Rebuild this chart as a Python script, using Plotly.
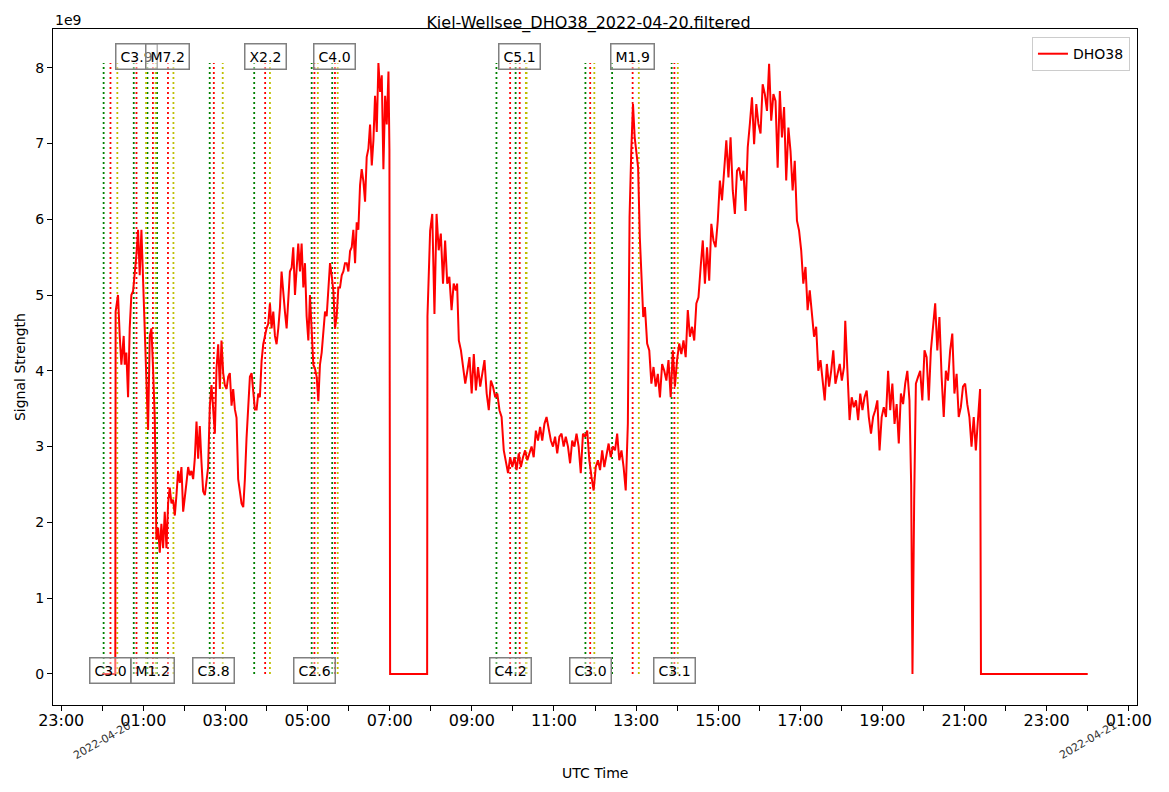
import pandas as pd
import plotly.graph_objects as go

DAY = "2022-04-20"
STATION = "DHO38"

# signal strength (1e9 units), minutes after midnight UTC
minutes = [0, 19, 19.5, 23.0, 25.5, 27.9, 31.3, 32.8, 35.2, 37.7, 40.1, 42.5, 45.0, 47.4, 49.9, 52.3, 54.7,
           57.2, 59.6, 62.1, 64.5, 66.9, 69.4, 71.8, 74.2, 76.7, 79.1, 81.6, 84.0, 86.4, 88.9, 91.3, 93.8,
           96.2, 98.6, 101.1, 103.5, 106.0, 108.4, 110.8, 113.3, 115.7, 118.2, 120.6, 123.0, 125.5, 127.9,
           130.3, 132.8, 135.2, 137.7, 140.1, 142.5, 145.0, 147.4, 149.9, 152.3, 154.7, 157.2, 159.6, 162.1,
           164.5, 166.9, 169.4, 171.8, 174.2, 176.7, 179.1, 181.6, 184.0, 186.4, 188.9, 191.3, 193.8, 196.2,
           198.6, 201.1, 203.5, 206.0, 208.4, 210.8, 213.3, 215.7, 218.2, 220.6, 223.0, 225.5, 227.9, 230.3,
           232.8, 235.2, 237.7, 240.1, 242.5, 245.0, 247.4, 249.9, 252.3, 254.7, 257.2, 259.6, 262.0, 264.5,
           266.9, 269.4, 271.8, 274.2, 276.7, 279.1, 281.6, 284.0, 286.4, 288.9, 291.3, 293.8, 296.2, 298.6,
           301.1, 303.5, 306.0, 308.4, 310.8, 313.3, 315.7, 318.1, 320.6, 323.0, 325.5, 327.9, 330.3, 332.8,
           335.2, 337.7, 340.1, 342.5, 345.0, 347.4, 349.9, 352.3, 354.7, 357.2, 359.6, 362.1, 364.5, 366.9,
           369.4, 371.8, 374.2, 376.7, 379.1, 381.6, 384.0, 386.4, 388.9, 391.3, 393.8, 396.2, 398.6, 401.1,
           403.5, 406.0, 408.4, 410.8, 413.3, 415.7, 418.2, 419.6, 420.6, 474.7, 475.2,
           479.1, 482.2, 485.4, 488.5, 491.6, 494.7, 497.9, 501.0, 504.1, 507.2, 510.4, 513.5, 516.6, 518.5,
           521.0, 524.1, 527.3, 530.4, 533.5, 536.6, 539.8, 542.9, 546.0, 549.1, 552.3, 555.4, 558.5, 561.7,
           564.8, 567.9, 571.0, 574.2, 577.3, 580.4, 583.5, 586.7, 589.8, 592.9, 596.0, 599.2, 602.3, 605.4,
           608.6, 611.7, 614.8, 617.9, 621.1, 624.2, 627.3, 630.4, 633.6, 636.7, 639.8, 642.9, 646.1, 649.2,
           652.3, 655.5, 658.6, 661.7, 664.8, 668.0, 671.1, 674.2, 677.3, 680.5, 683.6, 686.7, 689.9, 693.0,
           696.1, 699.2, 702.4, 705.5, 708.6, 711.7, 714.9, 718.0, 721.1, 724.3, 727.4, 730.5, 733.6, 736.8,
           739.9, 743.0, 746.1, 749.3, 752.4, 755.5, 758.7, 761.8, 764.9, 768.0, 770.5, 773.0, 775.5, 778.0,
           780.5, 783.0, 785.5, 788.0, 790.5, 793.0, 796.2, 799.3, 802.4, 805.5, 808.7, 811.8, 814.9, 818.1,
           821.2, 824.3, 827.4, 830.6, 833.7, 836.8, 839.9, 843.1, 846.2, 849.3, 852.5, 855.6, 858.7, 861.8,
           865.0, 868.1, 871.2, 874.4, 877.5, 880.6, 883.7, 886.9, 890.0, 893.1, 896.2, 899.4, 902.5, 905.6,
           908.8, 911.9, 915.0, 918.1, 921.3, 924.4, 927.5, 930.6, 933.8, 936.9, 940.0, 943.2, 946.3, 949.4,
           952.5, 955.7, 958.8, 961.9, 965.0, 968.2, 971.3, 974.4, 977.5, 980.7, 983.8, 986.9, 990.1, 993.2,
           996.3, 999.4, 1002.6, 1005.7, 1008.8, 1011.9, 1015.1, 1018.2, 1021.3, 1024.4, 1027.6, 1030.7,
           1033.8, 1036.9, 1040.1, 1043.2, 1046.3, 1049.5, 1052.6, 1055.7, 1058.8, 1062.0, 1065.1, 1068.2,
           1071.3, 1074.5, 1077.6, 1080.7, 1083.9, 1085.7, 1088.9, 1092.0, 1095.1, 1098.2, 1101.4, 1104.5,
           1107.6, 1110.8, 1113.9, 1117.0, 1120.1, 1123.3, 1126.4, 1129.5, 1132.6, 1135.8, 1138.9, 1142.0,
           1145.2, 1148.3, 1151.4, 1154.5, 1157.7, 1160.8, 1163.9, 1167.0, 1170.2, 1173.3, 1176.4, 1179.5,
           1182.0, 1183.9, 1186.4, 1188.9, 1192.1, 1195.2, 1198.3, 1201.5, 1204.6, 1207.7, 1210.8, 1214.0,
           1217.1, 1220.2, 1223.3, 1226.5, 1229.6, 1232.7, 1235.8, 1239.0, 1242.1, 1245.2, 1248.4, 1251.5,
           1254.6, 1257.7, 1260.9, 1264.0, 1267.1, 1270.2, 1273.4, 1276.5, 1279.6, 1282.7, 1284.0, 1440]

signal = [0, 0, 4.78, 5.0, 4.46, 4.08, 4.46, 4.08, 4.24, 3.65, 4.56, 5.0, 5.05, 5.26, 5.53, 5.86, 5.26,
          5.86, 5.2, 4.46, 3.65, 3.22, 4.46, 4.56, 4.03, 3.38, 1.77, 1.93, 1.6, 1.98, 1.66, 2.14, 1.66,
          2.25, 2.46, 2.25, 2.3, 2.09, 2.36, 2.68, 2.52, 2.73, 2.14, 2.3, 2.52, 2.73, 2.62,
          2.68, 2.57, 2.84, 3.33, 2.84, 3.27, 2.79, 2.41, 2.36, 2.52, 2.73, 3.54, 3.81, 3.49,
          3.17, 4.03, 4.35, 3.76, 4.4, 3.97, 3.81, 3.76, 3.92, 3.97, 3.54, 3.76, 3.49, 3.38,
          2.57, 2.41, 2.25, 2.2, 2.57, 3.11, 3.54, 3.92, 3.97, 3.76, 3.49, 3.49, 3.70, 3.65,
          4.13, 4.35, 4.46, 4.56, 4.62, 4.89, 4.56, 4.78, 4.46, 4.35, 4.56, 4.83, 5.31, 5.0,
          4.78, 4.56, 5.0, 5.31, 5.36, 5.63, 5.0, 5.42, 5.68, 5.31, 5.68, 5.1, 5.42, 4.72,
          4.4, 5.0, 4.56, 4.08, 4.03, 3.92, 3.6, 4.08, 4.24, 4.56, 4.78, 4.72, 5.0, 5.42,
          5.26, 5.05, 4.56, 4.72, 5.1, 5.1, 5.26, 5.31, 5.42, 5.42, 5.31, 5.58, 5.63, 5.86,
          5.42, 5.96, 5.86, 6.45, 6.66, 6.5, 6.23, 6.82, 6.93, 7.25, 6.71, 7.04, 7.63, 7.15,
          8.06, 7.68, 7.9, 6.66, 7.63, 7.25, 7.95, 6.93, 0, 0, 4.72,
          5.85, 6.07, 4.75, 6.07, 5.59, 5.81, 5.15, 5.72, 5.15, 5.24, 4.80, 5.15, 5.06, 5.15,
          4.4, 4.27, 4.05, 3.83, 4.0, 4.18, 3.70, 4.22, 3.74, 4.05, 3.79, 4.0, 4.14, 3.70,
          3.48, 3.87, 3.79, 3.65, 3.70, 3.48, 3.39, 2.95, 2.78, 2.65, 2.86, 2.73, 2.86, 2.69,
          2.91, 2.73, 2.86, 2.95, 2.82, 2.91, 3.0, 2.86, 3.21, 3.08, 3.26, 3.08, 3.30, 3.39,
          3.21, 3.08, 3.0, 3.13, 2.91, 3.13, 3.17, 3.0, 3.13, 3.0, 2.78, 3.08, 3.0, 3.17,
          3.0, 2.65, 3.17, 3.13, 3.21, 2.82, 2.60, 2.42, 2.73, 2.82, 2.69, 2.95, 2.73, 2.91,
          3.04, 2.86, 3.0, 2.95, 3.17, 2.82, 2.95, 2.73, 2.42, 3.30, 6.03, 6.90, 7.52, 7.08,
          6.90, 6.68, 5.76, 5.15, 4.71, 4.84, 4.36, 4.27, 3.83, 4.05, 3.79, 3.96, 3.65, 4.09,
          4.0, 3.87, 4.14, 3.65, 4.27, 3.79, 4.14, 4.36, 4.22, 4.40, 4.18, 4.80, 4.45, 4.58,
          4.40, 4.89, 4.97, 5.37, 5.72, 5.15, 5.63, 5.19, 5.94, 5.72, 5.63, 5.98, 6.51, 6.25,
          6.68, 7.04, 6.55, 7.08, 6.38, 6.07, 6.64, 6.68, 6.51, 6.64, 6.11, 6.95, 7.26, 7.61,
          6.99, 7.52, 7.26, 7.13, 7.78, 7.65, 7.43, 8.05, 7.30, 7.65, 7.56, 6.68, 7.69, 7.08,
          7.48, 6.51, 7.21, 6.90, 6.38, 6.77, 5.98, 5.85, 5.59, 5.15, 5.37, 4.80,
          5.06, 4.71, 4.45, 4.58, 4.0, 4.14, 3.87, 3.61, 4.09, 3.79, 4.0, 4.27,
          3.83, 3.96, 4.09, 3.87, 4.05, 4.66, 3.87, 3.35, 3.65, 3.52, 3.61, 3.35,
          3.70, 3.48, 3.65, 3.74, 3.39, 3.17, 3.39, 3.48, 3.61, 2.95, 3.39, 3.52,
          3.39, 4.0, 3.48, 3.83, 3.30, 3.56, 3.04, 3.70, 3.56, 3.83, 4.0, 3.61,
          2.5, 0.0, 2.3, 3.83, 3.92, 4.0, 3.61, 4.27, 4.18, 3.61, 4.27, 4.58,
          4.89, 4.27, 4.71, 3.92, 3.39, 4.0, 3.87, 4.27, 4.49, 3.70, 3.96, 3.39,
          3.52, 3.79, 3.83, 3.56, 3.39, 3.0, 3.39, 2.95, 3.39, 3.76, 0, 0]

# GOES flares of the day: class, start, peak, end (UTC)
flare_class = ["C3.0", "C3.9", "M1.2", "M7.2", "C3.8", "X2.2", "C2.6", "C4.0", "C4.2", "C5.1", "C3.0", "M1.9", "C3.1"]
flare_start = ["00:02", "00:46", "01:06", "01:20", "02:37", "03:42", "05:06", "05:36", "09:36", "10:04", "11:46", "12:25", "13:52"]
flare_peak = ["00:12", "00:50", "01:14", "01:36", "02:43", "03:58", "05:10", "05:40", "09:56", "10:10", "11:53", "12:55", "13:56"]
flare_end = ["00:22", "01:04", "01:18", "01:44", "02:56", "04:05", "05:15", "05:44", "10:20", "10:19", "11:59", "13:04", "14:01"]

FONT = "DejaVu Sans"


def stamp(hhmm):
    return pd.Timestamp(DAY + " " + hhmm)


# one trace per colour, line segments separated by None
def flare_lines(times, color, top):
    xs, ys = [], []
    for t in times:
        xs += [stamp(t), stamp(t), None]
        ys += [0, top, None]
    return go.Scatter(x=xs, y=ys, mode="lines", showlegend=False, hoverinfo="skip",
                      line=dict(color=color, width=1.8, dash="2px,3px"))


def label(fig, text, x, y, size=14, angle=0, xref="paper", xanchor="center", yanchor="middle", color="black"):
    fig.add_annotation(x=x, y=y, xref=xref, yref="paper", text=text, showarrow=False,
                       textangle=angle, xanchor=xanchor, yanchor=yanchor,
                       font=dict(size=size, color=color, family=FONT))


def make_graph():
    base = pd.Timestamp(DAY)
    times = base + pd.to_timedelta(minutes, unit="min")
    top = max(signal)

    fig = go.Figure()
    fig.add_trace(flare_lines(flare_start, "green", top))
    fig.add_trace(flare_lines(flare_peak, "red", top))
    fig.add_trace(flare_lines(flare_end, "#bfbf00", top))
    fig.add_trace(go.Scatter(x=times, y=signal, mode="lines", name=STATION,
                             line=dict(color="red", width=2)))

    # class labels alternate bottom / top
    for i, c in enumerate(flare_class):
        fig.add_annotation(x=stamp(flare_peak[i]), y=8.15 if i % 2 else 0.05, text=c,
                           showarrow=False, font=dict(size=14, color="black", family=FONT),
                           bgcolor="rgba(255,255,255,0.4)", bordercolor="gray",
                           borderwidth=1.5, borderpad=4, xanchor="center", yanchor="middle")

    # rotated date labels under midnight ticks
    for d in ["2022-04-20", "2022-04-21"]:
        label(fig, d, pd.Timestamp(d), -0.052, size=11, angle=-30, xref="x", color="#333")

    label(fig, "UTC Time", 0.5, -0.1006)
    label(fig, "Signal Strength", -0.0304, 0.5, angle=-90)
    label(fig, "1e9", 0, 1.0133, xanchor="left")

    ticks = pd.date_range("2022-04-19 23:00", "2022-04-21 01:00", freq="h")
    labels = [t.strftime("%H:%M") if t.hour % 2 else "" for t in ticks]

    # page body has an 8px margin, so the figure is 8px smaller than the window
    fig.update_layout(
        width=1161, height=784,
        paper_bgcolor="white", plot_bgcolor="white",
        margin=dict(l=45, r=32, t=21, b=87),
        font=dict(family=FONT, color="black"),
        title=dict(text="Kiel-Wellsee_DHO38_2022-04-20.filtered", x=0.5, xref="container",
                   y=1 - 14 / 784, yanchor="middle", font=dict(size=16, color="black")),
        legend=dict(x=0.9935, y=0.988, xanchor="right", yanchor="top", bgcolor="white",
                    bordercolor="#cccccc", borderwidth=1, font=dict(size=14)),
        showlegend=True,
    )
    fig.update_xaxes(type="date", range=["2022-04-19 22:48", "2022-04-21 01:12"],
                     tickvals=ticks, ticktext=labels, ticks="outside", ticklen=5,
                     tickcolor="black", tickfont=dict(size=16), ticklabelstandoff=-4,
                     showgrid=False, zeroline=False,
                     showline=True, linecolor="black", linewidth=1, mirror=True)
    fig.update_yaxes(range=[-0.41, 8.51], tickvals=list(range(9)), ticks="outside", ticklen=5,
                     tickcolor="black", tickfont=dict(size=14), showgrid=False, zeroline=False,
                     showline=True, linecolor="black", linewidth=1, mirror=True)

    fig.write_html("out.html")


def main():
    make_graph()


if __name__ == '__main__':
    main()
